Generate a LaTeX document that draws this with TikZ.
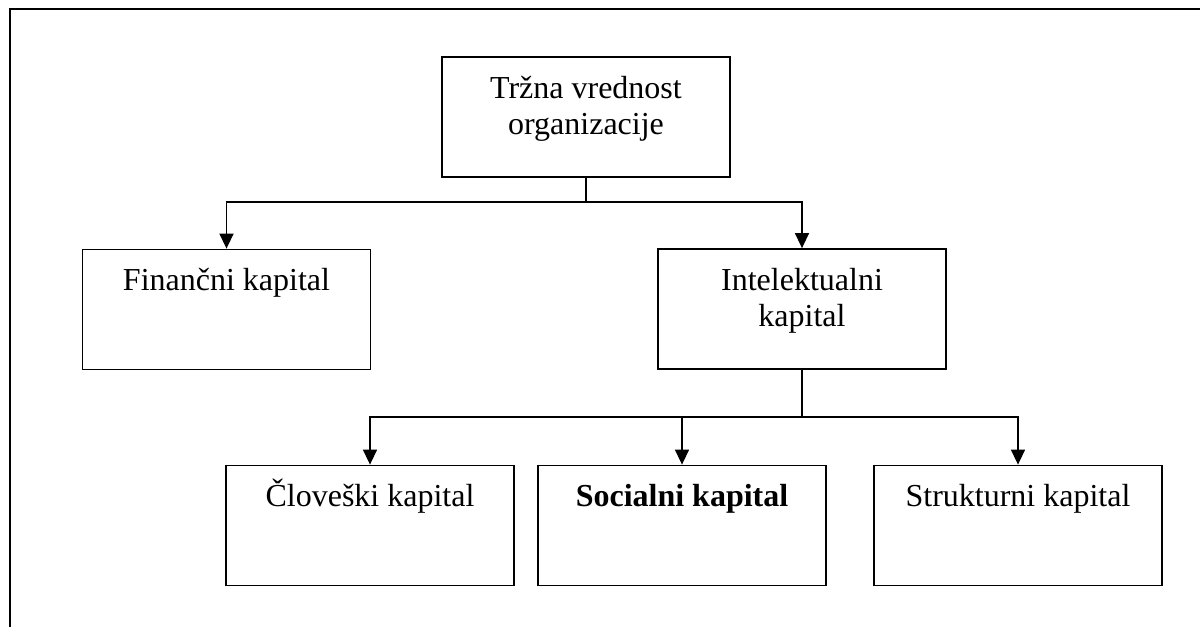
\documentclass[tikz,border=0pt]{standalone}
\usepackage{fontspec}
\setmainfont{Liberation Serif}
\usetikzlibrary{arrows.meta}
\tikzset{
  box/.style={draw, line width=1.8pt, minimum width=288pt, minimum height=120pt, inner sep=0pt},
  lbl/.style={font=\fontsize{32}{36.5}\selectfont, align=center, anchor=base, inner sep=0pt},
  conn/.style={line width=1.5pt},
  arr/.style={conn, -{Triangle[width=14pt,length=15pt]}},
  frame/.style={line width=2.4pt}
}
\begin{document}
\begin{tikzpicture}[x=1pt,y=-1pt]
\useasboundingbox (0,0) rectangle (1200,627);
% frame
\coordinate (fbl) at (10,627);
\coordinate (ftl) at (10,9);
\coordinate (ftr) at (1200,9);
\draw[frame] (fbl) -- (ftl) -- (ftr);
% boxes
\node[box] (top) at (586,117) {};
\node[box] (fin) at (226.5,309.5) {};
\node[box] (intel) at (802,309) {};
\node[box] (clov) at (370,525.5) {};
\node[box] (soc) at (682,525.5) {};
\node[box] (str) at (1018,525.5) {};
% texts
\node[lbl] (ttop) at (586,134.5) {Tržna vrednost\\organizacije};
\node[lbl] (tfin) at (226.5,290) {Finančni kapital};
\node[lbl] (tintel) at (802,326.5) {Intelektualni\\kapital};
\node[lbl] (tclov) at (370,506) {Človeški kapital};
\node[lbl] (tsoc) at (682,506) {\bfseries Socialni kapital};
\node[lbl] (tstr) at (1018,506) {Strukturni kapital};
% connectors
\coordinate (j1) at (586,202);
\coordinate (j2) at (802,417);
\draw[conn] (top.south) -- (j1);
\draw[arr] (j1) -| (fin.north);
\draw[arr] (j1) -| (intel.north);
\draw[conn] (intel.south) -- (j2);
\draw[arr] (j2) -| (clov.north);
\draw[arr] (j2) -| (soc.north);
\draw[arr] (j2) -| (str.north);
\end{tikzpicture}
\end{document}
